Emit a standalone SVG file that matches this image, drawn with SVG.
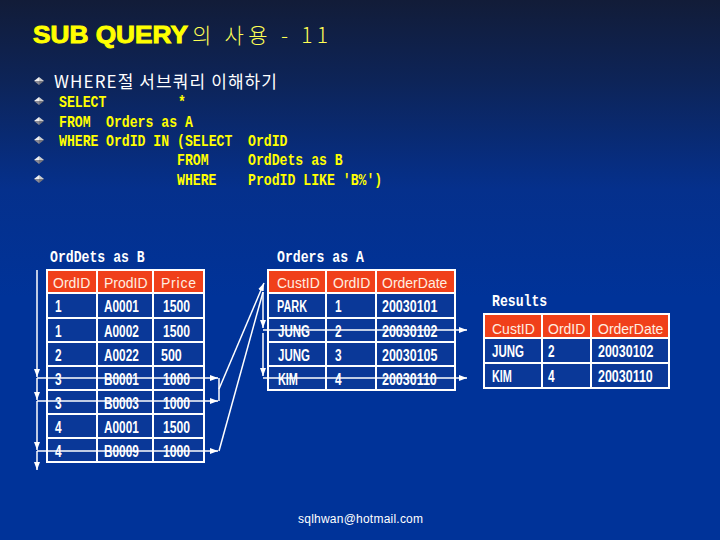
<svg xmlns="http://www.w3.org/2000/svg" width="720" height="540" viewBox="0 0 720 540">
<defs>
<linearGradient id="bg" x1="0" y1="0" x2="0" y2="1">
<stop offset="0" stop-color="#121c38"/>
<stop offset="0.15" stop-color="#0d2458"/>
<stop offset="0.35" stop-color="#05308c"/>
<stop offset="0.55" stop-color="#003399"/>
<stop offset="1" stop-color="#003399"/>
</linearGradient>
<symbol id="bul" viewBox="0 0 10 8" overflow="visible">
<polygon points="0,4 5,0 10,4" fill="#f0f0f0"/>
<polygon points="0,4 5,8 10,4" fill="#8a8a94"/>
<polygon points="5,0 10,4 5,8" fill="#000" opacity="0.15"/>
</symbol>
<marker id="ah" viewBox="0 0 8 6" refX="8" refY="3" markerWidth="8" markerHeight="6" markerUnits="userSpaceOnUse" orient="auto">
<path d="M0,0 L8,3 L0,6 z" fill="#fff"/>
</marker>
</defs>
<style>
.title{font-family:"Liberation Sans",Arial,sans-serif;font-weight:bold;font-size:23px;fill:#ffff00;stroke:#ffff00;stroke-width:0.9}
.titlek{font-family:"Noto Sans CJK KR","Liberation Sans",sans-serif;font-size:21px;fill:#ffff55;font-weight:300}
.head{font-family:"Noto Sans CJK KR","Liberation Sans",sans-serif;font-size:17px;fill:#ffffff}
.code{font-family:"Liberation Mono","Courier New",monospace;font-size:17px;font-weight:bold;fill:#ffff00}
.lbl{font-family:"Liberation Mono","Courier New",monospace;font-size:17px;font-weight:bold;fill:#ffffff}
.th{font-family:"Liberation Sans",Arial,sans-serif;font-size:14px;fill:#ffeee0}
.td{font-family:"Liberation Sans",Arial,sans-serif;font-size:16px;font-weight:bold;fill:#ffffff}
.hdr{fill:#f0401a}
.body{fill:#0a3898}
.grid{stroke:#ffffff;stroke-width:2;fill:none}
.conn{stroke:#ffffff;stroke-width:1.5;fill:none}
.mail{font-family:"Liberation Sans",Arial,sans-serif;font-size:12px;fill:#ffffff}
</style>
<rect x="0" y="0" width="720" height="540" fill="url(#bg)"/>

<g id="title">
<text class="title" x="33" y="43" textLength="155" lengthAdjust="spacingAndGlyphs">SUB QUERY</text>
<text class="titlek" x="192" y="43" textLength="136" lengthAdjust="spacing">의 사용 - 11</text>
</g>

<g id="bullets">
<use href="#bul" x="34" y="77" width="10" height="8"/>
<use href="#bul" x="34" y="97" width="10" height="8"/>
<use href="#bul" x="34" y="117" width="10" height="8"/>
<use href="#bul" x="34" y="136" width="10" height="8"/>
<use href="#bul" x="34" y="156" width="10" height="8"/>
<use href="#bul" x="34" y="175" width="10" height="8"/>
</g>

<g id="query-text">
<text class="head" x="54" y="88" textLength="223" lengthAdjust="spacing">WHERE절 서브쿼리 이해하기</text>
<text class="code" transform="translate(59 107) scale(.775 1)">SELECT</text>
<text class="code" transform="translate(178 107) scale(.775 1)">*</text>
<text class="code" transform="translate(59 127) scale(.775 1)">FROM</text>
<text class="code" transform="translate(106 127) scale(.775 1)">Orders as A</text>
<text class="code" transform="translate(59 146) scale(.775 1)">WHERE</text>
<text class="code" transform="translate(106 146) scale(.775 1)">OrdID IN (SELECT</text>
<text class="code" transform="translate(248 146) scale(.775 1)">OrdID</text>
<text class="code" transform="translate(177 165) scale(.775 1)">FROM</text>
<text class="code" transform="translate(248 165) scale(.775 1)">OrdDets as B</text>
<text class="code" transform="translate(177 185) scale(.775 1)">WHERE</text>
<text class="code" transform="translate(248 185) scale(.775 1)">ProdID LIKE 'B%')</text>
</g>

<g id="table-orddets">
<text class="lbl" transform="translate(50 262) scale(.775 1)">OrdDets as B</text>
<rect class="body" x="47" y="270" width="157" height="192"/>
<rect class="hdr" x="47" y="270" width="157" height="23"/>
<path class="grid" d="M47 270H204V462H47Z M47 293H204 M47 318H204 M47 342H204 M47 366H204 M47 390H204 M47 414H204 M47 438H204 M97 270V462 M153 270V462"/>
<text class="th" x="53" y="288">OrdID</text>
<text class="th" x="104" y="288">ProdID</text>
<text class="th" x="161" y="288" textLength="35">Price</text>
<text class="td" transform="translate(55 312) scale(.74 1)">1</text>
<text class="td" transform="translate(104 312) scale(.74 1)">A0001</text>
<text class="td" transform="translate(163 312) scale(.76 1)">1500</text>
<text class="td" transform="translate(55 337) scale(.74 1)">1</text>
<text class="td" transform="translate(104 337) scale(.74 1)">A0002</text>
<text class="td" transform="translate(163 337) scale(.76 1)">1500</text>
<text class="td" transform="translate(55 361) scale(.74 1)">2</text>
<text class="td" transform="translate(104 361) scale(.74 1)">A0022</text>
<text class="td" transform="translate(161 361) scale(.78 1)">500</text>
<text class="td" transform="translate(55 385) scale(.74 1)">3</text>
<text class="td" transform="translate(104 385) scale(.74 1)">B0001</text>
<text class="td" transform="translate(163 385) scale(.76 1)">1000</text>
<text class="td" transform="translate(55 409) scale(.74 1)">3</text>
<text class="td" transform="translate(104 409) scale(.74 1)">B0003</text>
<text class="td" transform="translate(163 409) scale(.76 1)">1000</text>
<text class="td" transform="translate(55 433) scale(.74 1)">4</text>
<text class="td" transform="translate(104 433) scale(.74 1)">A0001</text>
<text class="td" transform="translate(163 433) scale(.76 1)">1500</text>
<text class="td" transform="translate(55 457) scale(.74 1)">4</text>
<text class="td" transform="translate(104 457) scale(.74 1)">B0009</text>
<text class="td" transform="translate(163 457) scale(.76 1)">1000</text>
</g>

<g id="table-orders">
<text class="lbl" transform="translate(277 262) scale(.775 1)">Orders as A</text>
<rect class="body" x="268" y="270" width="187" height="120"/>
<rect class="hdr" x="268" y="270" width="187" height="23"/>
<path class="grid" d="M268 270H455V390H268Z M268 293H455 M268 318H455 M268 342H455 M268 366H455 M326 270V390 M376 270V390"/>
<text class="th" x="277" y="288">CustID</text>
<text class="th" x="333" y="288">OrdID</text>
<text class="th" x="382" y="288">OrderDate</text>
<text class="td" transform="translate(277 312) scale(.68 1)">PARK</text>
<text class="td" transform="translate(335 312) scale(.74 1)">1</text>
<text class="td" transform="translate(382 312) scale(.78 1)">20030101</text>
<text class="td" transform="translate(278 337) scale(.72 1)">JUNG</text>
<text class="td" transform="translate(335 337) scale(.74 1)">2</text>
<text class="td" transform="translate(382 337) scale(.78 1)">20030102</text>
<text class="td" transform="translate(278 361) scale(.72 1)">JUNG</text>
<text class="td" transform="translate(335 361) scale(.74 1)">3</text>
<text class="td" transform="translate(382 361) scale(.78 1)">20030105</text>
<text class="td" transform="translate(278 385) scale(.68 1)">KIM</text>
<text class="td" transform="translate(335 385) scale(.74 1)">4</text>
<text class="td" transform="translate(382 385) scale(.78 1)">20030110</text>
</g>

<g id="table-results">
<text class="lbl" transform="translate(492 306) scale(.775 1)">Results</text>
<rect class="body" x="484" y="314" width="185" height="74"/>
<rect class="hdr" x="484" y="314" width="185" height="24"/>
<path class="grid" d="M484 314H669V388H484Z M484 338H669 M484 363H669 M542 314V388 M591 314V388"/>
<text class="th" x="492" y="334">CustID</text>
<text class="th" x="548" y="334">OrdID</text>
<text class="th" x="598" y="334">OrderDate</text>
<text class="td" transform="translate(492 357) scale(.72 1)">JUNG</text>
<text class="td" transform="translate(548 357) scale(.74 1)">2</text>
<text class="td" transform="translate(598 357) scale(.78 1)">20030102</text>
<text class="td" transform="translate(492 382) scale(.68 1)">KIM</text>
<text class="td" transform="translate(548 382) scale(.74 1)">4</text>
<text class="td" transform="translate(598 382) scale(.78 1)">20030110</text>
</g>

<g id="connectors">
<line class="conn" x1="37" y1="270" x2="37" y2="377" marker-end="url(#ah)"/>
<line class="conn" x1="37" y1="378" x2="37" y2="400" marker-end="url(#ah)"/>
<line class="conn" x1="37" y1="401" x2="37" y2="450" marker-end="url(#ah)"/>
<line class="conn" x1="37" y1="451" x2="37" y2="470" marker-end="url(#ah)"/>
<line class="conn" x1="37" y1="378" x2="218" y2="378" marker-end="url(#ah)"/>
<line class="conn" x1="37" y1="401" x2="218" y2="401" marker-end="url(#ah)"/>
<line class="conn" x1="37" y1="451" x2="218" y2="451" marker-end="url(#ah)"/>
<line class="conn" x1="219" y1="378" x2="219" y2="401"/>
<line class="conn" x1="219" y1="389" x2="264" y2="283" marker-end="url(#ah)"/>
<line class="conn" x1="219" y1="451" x2="263" y2="292"/>
<line class="conn" x1="263" y1="292" x2="263" y2="328" marker-end="url(#ah)"/>
<line class="conn" x1="263" y1="333" x2="263" y2="376" marker-end="url(#ah)"/>
<line class="conn" x1="263" y1="330" x2="467" y2="330" marker-end="url(#ah)"/>
<line class="conn" x1="263" y1="378" x2="467" y2="378" marker-end="url(#ah)"/>
</g>

<text class="mail" x="298" y="523" textLength="125" lengthAdjust="spacing">sqlhwan@hotmail.com</text>
</svg>
